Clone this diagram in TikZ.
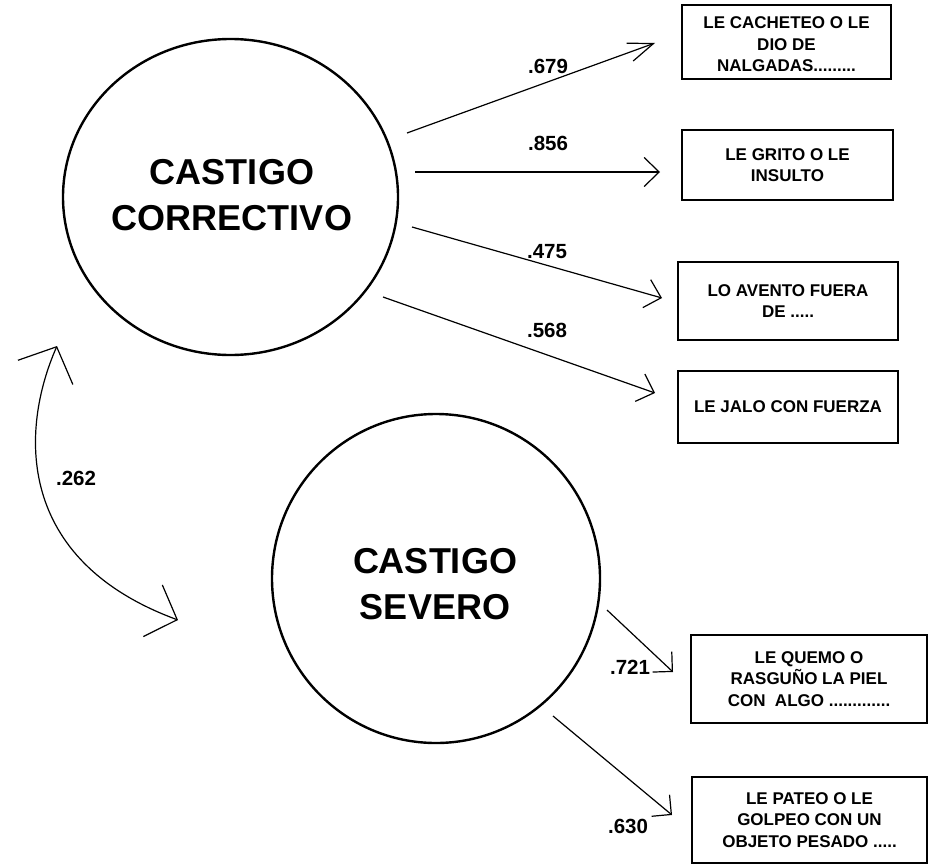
\documentclass[tikz,border=0pt]{standalone}
\usepackage{fontspec}
\setmainfont{Liberation Sans}
\usetikzlibrary{arrows.meta,shapes.geometric}
\begin{document}
\begin{tikzpicture}[x=1pt,y=-1pt,
  latent/.style={draw, line width=2.4pt, ellipse, inner sep=0pt},
  bigtxt/.style={align=center, font=\fontsize{36}{46}\selectfont\bfseries, inner sep=0pt},
  itembox/.style={draw, line width=2.4pt, rectangle, align=center, inner sep=0pt, font=\fontsize{17}{21.5}\selectfont\bfseries},
  coef/.style={font=\fontsize{20.5}{24}\selectfont\bfseries, inner sep=0pt},
  patharrow/.style={line width=1.2pt, -{Straight Barb[length=15pt,width=29pt]}},
]
\useasboundingbox (0,0) rectangle (936,867);

% latent variables
\node[latent, minimum width=335pt, minimum height=316pt] (cc) at (230.5,197) {};
\node[bigtxt] (cct) at (232,195) {CASTIGO\\CORRECTIVO};
\node[latent, minimum width=328pt, minimum height=329pt] (cs) at (436,578.5) {};
\node[bigtxt] (cst) at (435,584) {CASTIGO\\SEVERO};

% indicators
\node[itembox, minimum width=209pt, minimum height=74pt] (b1) at (786.5,42) {\rule{0pt}{17pt}LE CACHETEO O LE\\DIO DE\\NALGADAS.........};
\node[itembox, minimum width=211pt, minimum height=70pt] (b2) at (787.5,165) {LE GRITO O LE\\INSULTO};
\node[itembox, minimum width=220pt, minimum height=78pt] (b3) at (788,301) {LO AVENTO FUERA\\DE .....};
\node[itembox, minimum width=220pt, minimum height=72pt] (b4) at (788,407) {LE JALO CON FUERZA};
\node[itembox, minimum width=236pt, minimum height=88pt] (b5) at (809,679) {LE QUEMO O\\RASGUÑO LA PIEL\\CON\ \ ALGO .............};
\node[itembox, minimum width=235pt, minimum height=86pt] (b6) at (809.5,820) {LE PATEO O LE\\GOLPEO CON UN\\OBJETO PESADO .....};

% connector end points
\coordinate (a1s) at (407,133);  \coordinate (a1e) at (655,43);
\coordinate (a2s) at (415,172);  \coordinate (a2e) at (660,172);
\coordinate (a3s) at (412,227);  \coordinate (a3e) at (662,298);
\coordinate (a4s) at (383,297);  \coordinate (a4e) at (655,393);
\coordinate (a5s) at (607,610);  \coordinate (a5e) at (673,672);
\coordinate (a6s) at (553,716);  \coordinate (a6e) at (672,815);
\coordinate (d1) at (57,346);    \coordinate (d2) at (178,620);

% loadings
\draw[line width=1.2pt, -{Straight Barb[length=25pt,width=19pt]}] (a1s) -- (a1e);
\draw[patharrow] (a2s) -- (a2e);
\draw[patharrow] (a3s) -- (a3e);
\draw[patharrow] (a4s) -- (a4e);
\draw[patharrow, -{Straight Barb[length=14pt,width=28pt]}] (a5s) -- (a5e);
\draw[patharrow, -{Straight Barb[length=14pt,width=28pt]}] (a6s) -- (a6e);

% correlation
\draw[line width=1.2pt, {Straight Barb[length=28pt,width=60pt]}-{Straight Barb[length=26pt,width=55pt]}]
  (d1) .. controls (20,430) and (15,560) .. (d2);

% coefficients
\node[coef] (l1) at (548,66) {.679};
\node[coef] (l2) at (548,143) {.856};
\node[coef] (l3) at (547,252) {.475};
\node[coef] (l4) at (547,330) {.568};
\node[coef] (l5) at (630,667) {.721};
\node[coef] (l6) at (628,826) {.630};
\node[coef] (l7) at (76,478) {.262};
\end{tikzpicture}
\end{document}
